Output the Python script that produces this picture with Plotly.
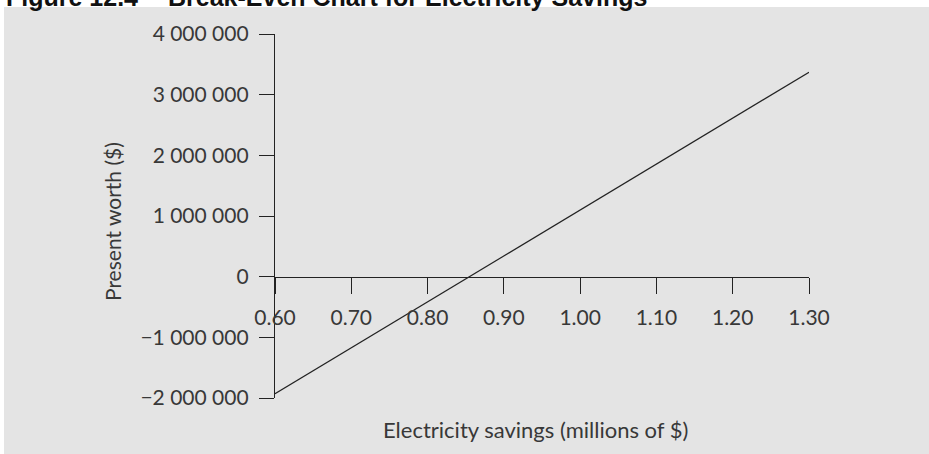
import plotly.graph_objects as go

# ---- data ----
savings = [0.60, 1.30]                 # electricity savings, millions of $
present_worth = [-1930000, 3370000]    # present worth, $

x_tick_vals = [0.60, 0.70, 0.80, 0.90, 1.00, 1.10, 1.20, 1.30]
x_tick_labels = ["0.60", "0.70", "0.80", "0.90", "1.00", "1.10", "1.20", "1.30"]
y_tick_vals = [-2000000, -1000000, 0, 1000000, 2000000, 3000000, 4000000]
y_tick_labels = ["\u22122 000 000", "\u22121 000 000", "0", "1 000 000",
                 "2 000 000", "3 000 000", "4 000 000"]

title_text = "Figure 12.4\u2003\u2009Break-Even Chart for Electricity Savings"
x_title = "Electricity savings (millions of $)"
y_title = "Present worth ($)"

# ---- layout geometry ----
W, H = 929, 454
L, R, T, B = 275, 120, 34, 56
pw, ph = W - L - R, H - T - B

def px_x(px):
    return (px - L) / pw

def px_y(py):
    return (H - B - py) / ph

FONT = "Lato"
TXT = "#383838"
LINE = "#222222"

fig = go.Figure()
fig.add_trace(go.Scatter(
    x=savings, y=present_worth, mode="lines",
    line=dict(color=LINE, width=1.2), showlegend=False, hoverinfo="skip",
))

fig.update_layout(
    width=W, height=H, autosize=False,
    margin=dict(l=L, r=R, t=T, b=B, autoexpand=False),
    paper_bgcolor="white", plot_bgcolor="rgba(0,0,0,0)",
    font=dict(family=FONT, size=21, color=TXT),
    showlegend=False,
    xaxis=dict(
        range=[0.60, 1.30], anchor="free", position=1/3,
        showline=True, linecolor=LINE, linewidth=1.3,
        ticks="outside", ticklen=16, tickwidth=1.3, tickcolor=LINE,
        tickvals=x_tick_vals, ticktext=x_tick_labels,
        tickfont=dict(family=FONT, size=21, color=TXT),
        ticklabelstandoff=6,
        showgrid=False, zeroline=False,
    ),
    yaxis=dict(
        range=[-2000000, 4000000],
        showline=True, linecolor=LINE, linewidth=1.3,
        ticks="outside", ticklen=15, tickwidth=1.3, tickcolor=LINE,
        tickvals=y_tick_vals, ticktext=y_tick_labels,
        tickfont=dict(family=FONT, size=21, color=TXT),
        ticklabelstandoff=6,
        showgrid=False, zeroline=False,
    ),
    shapes=[dict(
        type="rect", xref="paper", yref="paper", layer="below",
        x0=px_x(4), x1=px_x(W + 5), y0=px_y(H + 5), y1=px_y(7),
        fillcolor="#e4e4e4", line=dict(width=0),
    )],
    annotations=[
        dict(text="<b>" + title_text + "</b>", xref="paper", yref="paper",
             x=px_x(4), y=px_y(-3), xanchor="left", yanchor="middle",
             showarrow=False,
             font=dict(family="Liberation Sans", size=25, color="#111111")),
        dict(text=x_title, xref="paper", yref="paper",
             x=px_x(535), y=px_y(430), xanchor="center", yanchor="middle",
             showarrow=False, font=dict(family=FONT, size=22, color=TXT)),
        dict(text=y_title, xref="paper", yref="paper", textangle=-90,
             x=px_x(113), y=px_y(222), xanchor="center", yanchor="middle",
             showarrow=False, font=dict(family=FONT, size=21, color=TXT)),
    ],
)

fig.write_html(
    "out.html",
    config={"displayModeBar": False},
    post_script="document.body.style.margin='0';document.body.style.overflow='hidden';",
)
